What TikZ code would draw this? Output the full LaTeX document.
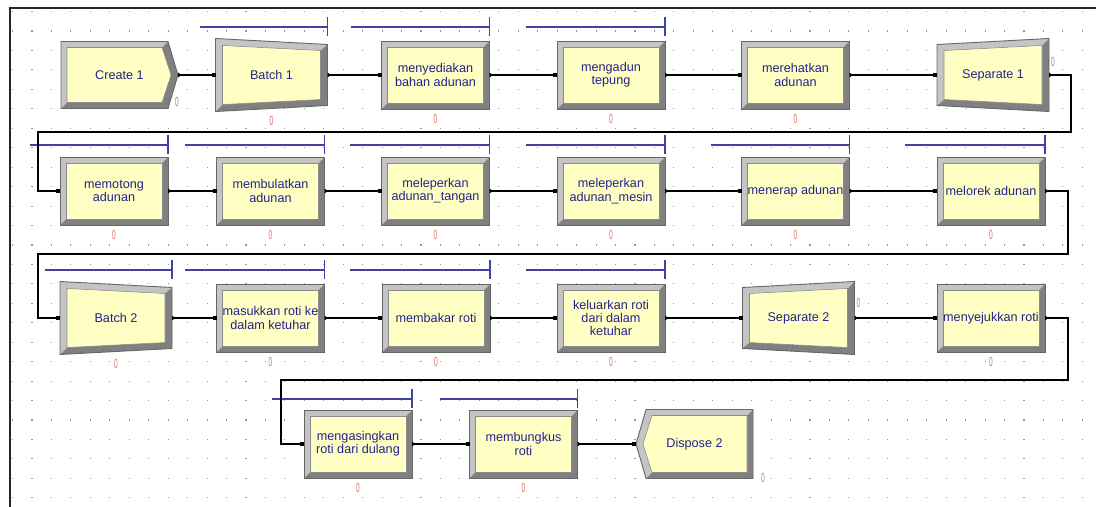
\documentclass[tikz,border=0pt]{standalone}
\usepackage{fontspec}
\setmainfont{Liberation Sans}
\usetikzlibrary{arrows.meta, positioning}

\definecolor{procyellow}{RGB}{255,255,196}
\definecolor{bevlight}{RGB}{196,196,196}
\definecolor{bevdark}{RGB}{128,128,128}
\definecolor{textblue}{RGB}{35,35,140}
\definecolor{queueblue}{RGB}{64,64,168}
\definecolor{cntred}{RGB}{225,110,100}
\definecolor{cntpurple}{RGB}{150,130,210}
\definecolor{dotgray}{RGB}{150,150,150}

\begin{document}
\begin{tikzpicture}[x=0.02cm, y=-0.02cm,
    mod/.style={inner sep=0pt, outer sep=0pt, text=textblue, font=\fontsize{7.2}{7.6}\selectfont, align=center},
    inner/.style={fill=procyellow, draw=black!45, line width=0.3pt},
    rim/.style={draw=black!60, line width=0.5pt},
    pics/proc/.style 2 args={code={
      \begin{scope}[shift={(-54,-34)}]
        \fill[bevdark] (0,0) rectangle (108,68);
        \fill[bevlight] (0,0) -- (108,0) -- (102,6) -- (6,6) -- (6,62) -- (0,68) -- cycle;
        \filldraw[inner] (6,6) rectangle (102,62);
        \draw[rim] (0,0) rectangle (108,68);
      \end{scope}
      \node[mod, minimum width=108*0.02cm, minimum height=68*0.02cm] (#1) at (0,0) {#2};}},
    pics/batch/.style 2 args={code={
      \begin{scope}[shift={(-56,-36.5)}]
        \fill[bevdark] (0,0) -- (112,6) -- (112,67) -- (0,73) -- cycle;
        \fill[bevlight] (0,0) -- (112,6) -- (105,12) -- (7,7) -- (7,66) -- (0,73) -- cycle;
        \filldraw[inner] (7,7) -- (105,12) -- (105,61) -- (7,66) -- cycle;
        \draw[rim] (0,0) -- (112,6) -- (112,67) -- (0,73) -- cycle;
      \end{scope}
      \node[mod, minimum width=112*0.02cm, minimum height=73*0.02cm] (#1) at (0,0) {#2};}},
    pics/separate/.style 2 args={code={
      \begin{scope}[shift={(-56,-36.5)}]
        \fill[bevdark] (0,6) -- (112,0) -- (112,73) -- (0,67) -- cycle;
        \fill[bevlight] (0,6) -- (112,0) -- (105,7) -- (7,12) -- (7,61) -- (0,67) -- cycle;
        \filldraw[inner] (7,12) -- (105,7) -- (105,66) -- (7,61) -- cycle;
        \draw[rim] (0,6) -- (112,0) -- (112,73) -- (0,67) -- cycle;
      \end{scope}
      \node[mod, minimum width=112*0.02cm, minimum height=73*0.02cm] (#1) at (0,0) {#2};}},
    pics/create/.style 2 args={code={
      \begin{scope}[shift={(-58.5,-33.5)}]
        \fill[bevdark] (0,0) -- (107,0) -- (117,33.5) -- (107,67) -- (0,67) -- cycle;
        \fill[bevlight] (0,0) -- (107,0) -- (101,6) -- (6,6) -- (6,61) -- (0,67) -- cycle;
        \filldraw[inner] (6,6) -- (101,6) -- (110,33.5) -- (101,61) -- (6,61) -- cycle;
        \draw[rim] (0,0) -- (107,0) -- (117,33.5) -- (107,67) -- (0,67) -- cycle;
      \end{scope}
      \node[mod, minimum width=117*0.02cm, minimum height=67*0.02cm] (#1) at (0,0) {#2};}},
    pics/dispose/.style 2 args={code={
      \begin{scope}[shift={(-58.5,-34.5)}]
        \fill[bevdark] (10,0) -- (117,0) -- (117,69) -- (10,69) -- (0,34.5) -- cycle;
        \fill[bevlight] (10,0) -- (117,0) -- (111,6) -- (16,6) -- (7,34.5) -- (16,63) -- (10,69) -- (0,34.5) -- cycle;
        \filldraw[inner] (16,6) -- (111,6) -- (111,63) -- (16,63) -- (7,34.5) -- cycle;
        \draw[rim] (10,0) -- (117,0) -- (117,69) -- (10,69) -- (0,34.5) -- cycle;
      \end{scope}
      \node[mod, minimum width=117*0.02cm, minimum height=69*0.02cm] (#1) at (0,0) {#2};}},
    conn/.style={line width=0.6pt, {Triangle[reversed,length=2pt,width=2.6pt]}-{Square[length=2.2pt,width=2.2pt]}},
    queue/.style={draw=queueblue, line width=0.6pt},
    cnt/.style={inner sep=0pt, font=\fontsize{7.5}{7.5}\selectfont, text=cntred},
  ]
  \useasboundingbox[fill=white] (0,0) rectangle (1096,507);
  \foreach \i in {0,...,55}
    \foreach \j in {0,...,25}
      \fill[dotgray] ({12+19.45*\i},{11+19.45*\j}) rectangle ++(1.1,1.1);
  \draw[black!85, line width=1.2pt] (10,507) -- (10,8) -- (1096,8);

  \pic at (119.5,75) {create={create1}{Create 1}};
  \pic at (271.5,75) {batch={batch1}{Batch 1}};
  \pic at (435.5,75) {proc={sedia}{menyediakan\\bahan adunan}};
  \pic at (611,75) {proc={adun}{mengadun\\tepung}};
  \pic at (795.5,75) {proc={rehat}{merehatkan\\adunan}};
  \pic at (993,75) {separate={sep1}{Separate 1}};

  \pic at (114,191) {proc={potong}{memotong\\adunan}};
  \pic at (270.5,191) {proc={bulat}{membulatkan\\adunan}};
  \pic at (435.5,191) {proc={leperT}{meleperkan\\adunan\_tangan}};
  \pic at (611,191) {proc={leperM}{meleperkan\\adunan\_mesin}};
  \pic at (795.5,191) {proc={terap}{menerap adunan}};
  \pic at (991,191) {proc={lorek}{melorek adunan}};

  \pic at (116,318) {batch={batch2}{Batch 2}};
  \pic at (270.5,318) {proc={masuk}{masukkan roti ke\\dalam ketuhar}};
  \pic at (436,318) {proc={bakar}{membakar roti}};
  \pic at (611,318) {proc={keluar}{keluarkan roti\\dari dalam\\ketuhar}};
  \pic at (798.5,318) {separate={sep2}{Separate 2}};
  \pic at (991,318) {proc={sejuk}{menyejukkan roti}};

  \pic at (358,444) {proc={asing}{mengasingkan\\roti dari dulang}};
  \pic at (523.5,444) {proc={bungkus}{membungkus\\roti}};
  \pic at (694.5,444) {dispose={dispose2}{Dispose 2}};

  \foreach \n/\s/\y in {batch1/200/27, sedia/351/27, adun/526/27,
      potong/30/145, bulat/185/145, leperT/350/145, leperM/526/145, terap/711/145, lorek/905/145,
      batch2/45/270, masuk/185/270, bakar/350/270, keluar/526/270,
      asing/272/399, bungkus/440/399}
    \draw[queue] (\s,\y) -- (\n.east |- 0,\y) ++(0,-10) -- ++(0,19);

  \foreach \n in {batch1, sedia, adun, rehat, potong, bulat, leperT, leperM, terap, lorek,
      batch2, masuk, bakar, keluar, sejuk, asing, bungkus}
    \node[cnt, below=2.8pt of \n] (\n cnt) {\scalebox{0.5}[1]{0}};
  \node[cnt, text=cntpurple] (create1 cnt) at ([shift={(-1,-7)}]create1.south east) {\scalebox{0.5}[1]{0}};
  \node[cnt, text=cntpurple] (sep1 cnt) at ([shift={(4,-13)}]sep1.east) {\scalebox{0.5}[1]{0}};
  \node[cnt, text=cntpurple] (sep2 cnt) at ([shift={(4,-15)}]sep2.east) {\scalebox{0.5}[1]{0}};
  \node[cnt, text=cntpurple] (dispose2 cnt) at ([shift={(10,-1)}]dispose2.south east) {\scalebox{0.5}[1]{0}};

  \draw[conn] (create1) -- (batch1);
  \draw[conn] (batch1) -- (sedia);
  \draw[conn] (sedia) -- (adun);
  \draw[conn] (adun) -- (rehat);
  \draw[conn] (rehat) -- (sep1);
  \draw[conn] (sep1.east) -| (1071,132) -| (38,191) -- (potong.west);
  \draw[conn] (potong) -- (bulat);
  \draw[conn] (bulat) -- (leperT);
  \draw[conn] (leperT) -- (leperM);
  \draw[conn] (leperM) -- (terap);
  \draw[conn] (terap) -- (lorek);
  \draw[conn] (lorek.east) -| (1068,254) -| (38,318) -- (batch2.west);
  \draw[conn] (batch2) -- (masuk);
  \draw[conn] (masuk) -- (bakar);
  \draw[conn] (bakar) -- (keluar);
  \draw[conn] (keluar) -- (sep2);
  \draw[conn] (sep2) -- (sejuk);
  \draw[conn] (sejuk.east) -| (1068,380) -| (281,444) -- (asing.west);
  \draw[conn] (asing) -- (bungkus);
  \draw[conn] (bungkus) -- (dispose2);
\end{tikzpicture}
\end{document}
